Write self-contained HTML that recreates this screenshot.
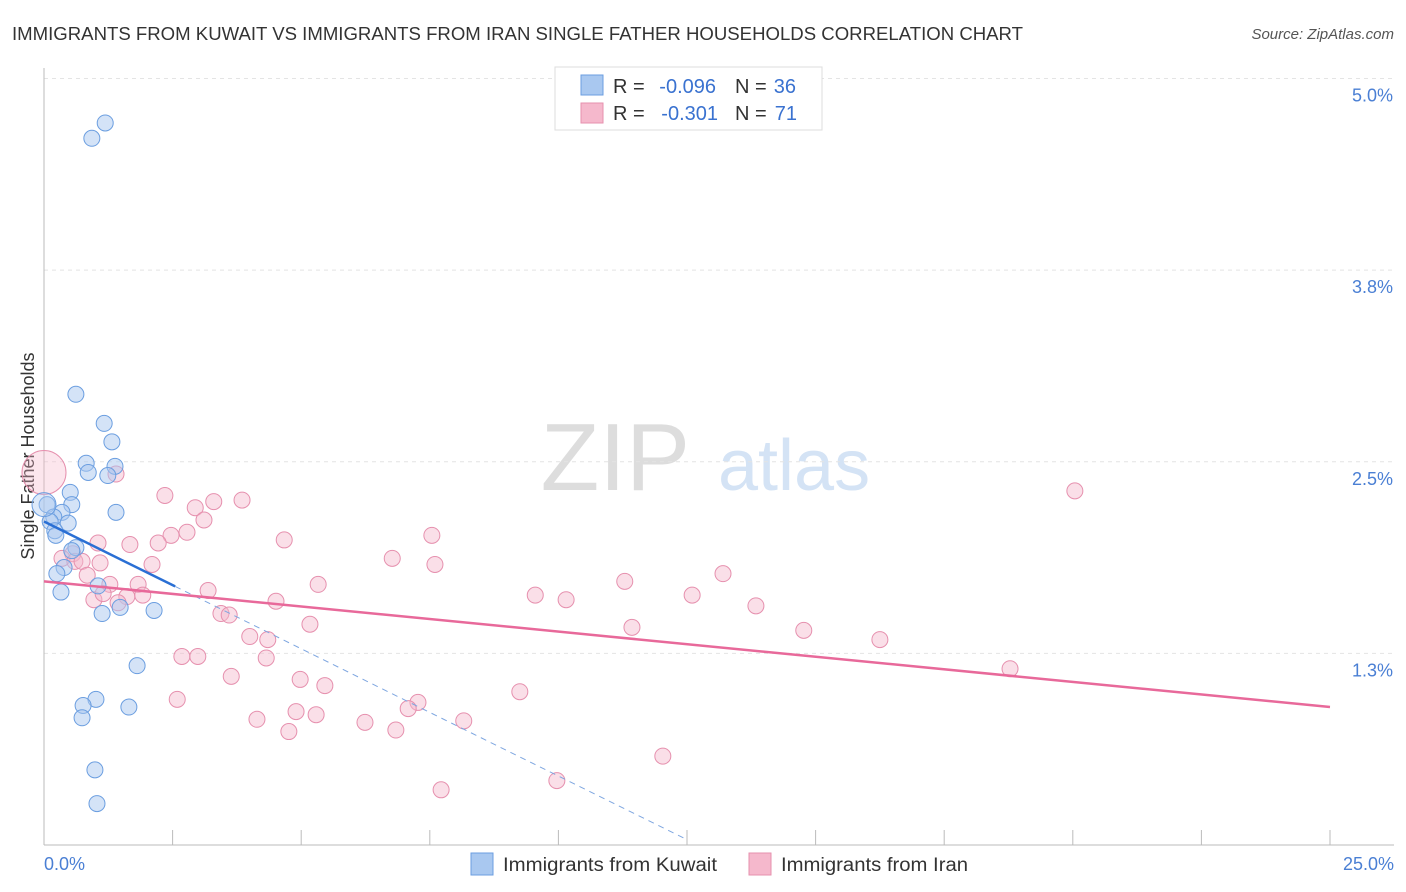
<!DOCTYPE html>
<html><head><meta charset="utf-8"><style>
body{margin:0;background:#fff;font-family:"Liberation Sans",sans-serif;}
#wrap{position:relative;width:1406px;height:892px;overflow:hidden;}
svg text{font-family:"Liberation Sans",sans-serif;}
</style></head><body>
<div id="wrap">
<svg id="c" width="1406" height="892"></svg>
</div>
<script>
const xTicks=[0,2.5,5,7.5,10,12.5,15,17.5,20,22.5,25];
const yTicks=[5,3.75,2.5,1.25];
const yTickLabels=["5.0%","3.8%","2.5%","1.3%"];
const kuwaitX=[1.19,0.93,0.62,1.17,1.32,0.82,1.38,0.86,1.24,0.51,0.54,0.06,1.40,0.35,0.19,0.12,0.47,0.21,0.23,0.62,0.54,0.39,0.25,0.33,1.05,1.13,1.48,2.14,1.81,1.01,0.76,1.65,0.74,0.99,1.03,0.0];
const kuwaitY=[4.71,4.61,2.94,2.75,2.63,2.49,2.47,2.43,2.41,2.30,2.22,2.22,2.17,2.17,2.14,2.11,2.10,2.05,2.02,1.94,1.92,1.81,1.77,1.65,1.69,1.51,1.55,1.53,1.17,0.95,0.91,0.90,0.83,0.49,0.27,2.22];
const iranX=[1.40,2.35,3.30,3.85,2.94,3.11,2.78,2.47,2.22,1.67,1.05,4.67,7.54,0.56,0.35,0.60,1.09,0.74,2.10,6.77,7.60,0.84,13.20,11.29,5.33,1.28,1.83,3.19,0.97,1.15,1.61,1.92,1.44,9.55,10.15,12.60,4.51,13.84,3.44,3.60,5.17,11.43,14.77,16.25,4.00,4.35,2.68,2.99,4.32,18.78,3.64,4.98,5.46,9.25,2.59,7.27,7.08,4.90,5.29,4.14,6.24,8.16,4.76,6.84,12.03,9.97,7.72,20.04,0.0];
const iranY=[2.42,2.28,2.24,2.25,2.20,2.12,2.04,2.02,1.97,1.96,1.97,1.99,2.02,1.90,1.87,1.85,1.84,1.85,1.83,1.87,1.83,1.76,1.77,1.72,1.70,1.70,1.70,1.66,1.60,1.64,1.62,1.63,1.58,1.63,1.60,1.63,1.59,1.56,1.51,1.50,1.44,1.42,1.40,1.34,1.36,1.34,1.23,1.23,1.22,1.15,1.10,1.08,1.04,1.00,0.95,0.93,0.89,0.87,0.85,0.82,0.80,0.81,0.74,0.75,0.58,0.42,0.36,2.31,2.43];
const kuwaitTrend=[2.11,-0.166]; // intercept, slope
const iranTrend=[1.72,-0.0328];
const NS="http://www.w3.org/2000/svg";
const svg=document.getElementById('c');
const X=v=>44+v*51.44, Y=v=>845-v*153.3;
function mk(t,a,p){const e=document.createElementNS(NS,t);for(const k in a)e.setAttribute(k,a[k]);(p||svg).appendChild(e);return e;}
function tx(x,y,s,a){const e=mk('text',Object.assign({x:x,y:y},a));e.textContent=s;return e;}
let t=tx(12,40,"IMMIGRANTS FROM KUWAIT VS IMMIGRANTS FROM IRAN SINGLE FATHER HOUSEHOLDS CORRELATION CHART",{'font-size':18,fill:'#333',textLength:1011,lengthAdjust:'spacingAndGlyphs'});

t=tx(1394,39,"Source: ZipAtlas.com",{'font-size':15,fill:'#555','text-anchor':'end','font-style':'italic'});

t=tx(690,490,"ZIP",{'font-size':96,fill:'#ddd','text-anchor':'end','font-family':'Liberation Serif'});

t=tx(718,490,"atlas",{'font-size':72,fill:'#d4e3f5'});

yTicks.forEach((v,i)=>{
 let l=mk('line',{x1:44,x2:1394,y1:Y(v),y2:Y(v),stroke:'#e4e4e4','stroke-dasharray':'4,4'});
 
 let s=tx(1393,Y(v)+23,yTickLabels[i],{'font-size':18,fill:'#4a7fd4','text-anchor':'end'});
 
});
let ax=mk('line',{x1:44,x2:44,y1:68,y2:845,stroke:'#bbb'});
ax=mk('line',{x1:44,x2:1394,y1:845,y2:845,stroke:'#bbb'});
xTicks.forEach(v=>{let l=mk('line',{x1:X(v),x2:X(v),y1:830,y2:845,stroke:'#bbb'});});
t=tx(44,870,"0.0%",{'font-size':18,fill:'#4a7fd4'});
t=tx(1394,870,"25.0%",{'font-size':18,fill:'#4a7fd4','text-anchor':'end'});
t=tx(34,456,"Single Father Households",{'font-size':18,fill:'#333','text-anchor':'middle',transform:'rotate(-90 34 456)'});

iranX.forEach((v,i)=>{const big=i==iranX.length-1;
 let c=mk('circle',{cx:X(v),cy:Y(iranY[i]),r:big?22:8,fill:'#f5b8cc','fill-opacity':big?0.35:0.45,stroke:'#e690ae','stroke-width':1});
 });
kuwaitX.forEach((v,i)=>{const big=i==kuwaitX.length-1;
 let c=mk('circle',{cx:X(v),cy:Y(kuwaitY[i]),r:big?12:8,fill:'#a9c8f0','fill-opacity':big?0.4:0.5,stroke:'#6b9ee0','stroke-width':1});
 });
const kEnd=2.55, kDash=12.5;
let ln=mk('line',{x1:X(0),y1:Y(kuwaitTrend[0]),x2:X(kEnd),y2:Y(kuwaitTrend[0]+kuwaitTrend[1]*kEnd),stroke:'#2a6fd4','stroke-width':2.5});

ln=mk('line',{x1:X(kEnd),y1:Y(kuwaitTrend[0]+kuwaitTrend[1]*kEnd),x2:X(kDash),y2:Y(kuwaitTrend[0]+kuwaitTrend[1]*kDash),stroke:'#7ea6e0','stroke-width':1,'stroke-dasharray':'6,5'});

ln=mk('line',{x1:X(0),y1:Y(iranTrend[0]),x2:X(25),y2:Y(iranTrend[0]+iranTrend[1]*25),stroke:'#e8699a','stroke-width':2.5});

const g=mk('g',{});
mk('rect',{x:555,y:67,width:267,height:63,fill:'#fff',stroke:'#ddd'},g);
mk('rect',{x:581,y:75,width:22,height:20,fill:'#a9c8f0',stroke:'#6b9ee0'},g);
mk('rect',{x:581,y:103,width:22,height:20,fill:'#f5b8cc',stroke:'#e690ae'},g);
function lt(x,y,s,c,anchor){const e=mk('text',{x:x,y:y,'font-size':20,fill:c,'text-anchor':anchor||'start'},g);e.textContent=s;return e;}
lt(613,93,"R =","#333");lt(716,93,"-0.096","#3a72d0",'end');lt(735,93,"N =","#333");lt(796,93,"36","#3a72d0",'end');
lt(613,120,"R =","#333");lt(718,120,"-0.301","#3a72d0",'end');lt(735,120,"N =","#333");lt(797,120,"71","#3a72d0",'end');
const b=mk('g',{});
let r=mk('rect',{x:471,y:853,width:22,height:22,fill:'#a9c8f0',stroke:'#6b9ee0'},b);
t=tx(503,871,"Immigrants from Kuwait",{'font-size':19,fill:'#333',textLength:214,lengthAdjust:'spacingAndGlyphs'});b.appendChild(t);
r=mk('rect',{x:749,y:853,width:22,height:22,fill:'#f5b8cc',stroke:'#e690ae'},b);
t=tx(781,871,"Immigrants from Iran",{'font-size':19,fill:'#333',textLength:187,lengthAdjust:'spacingAndGlyphs'});b.appendChild(t);
</script>
</body></html>
